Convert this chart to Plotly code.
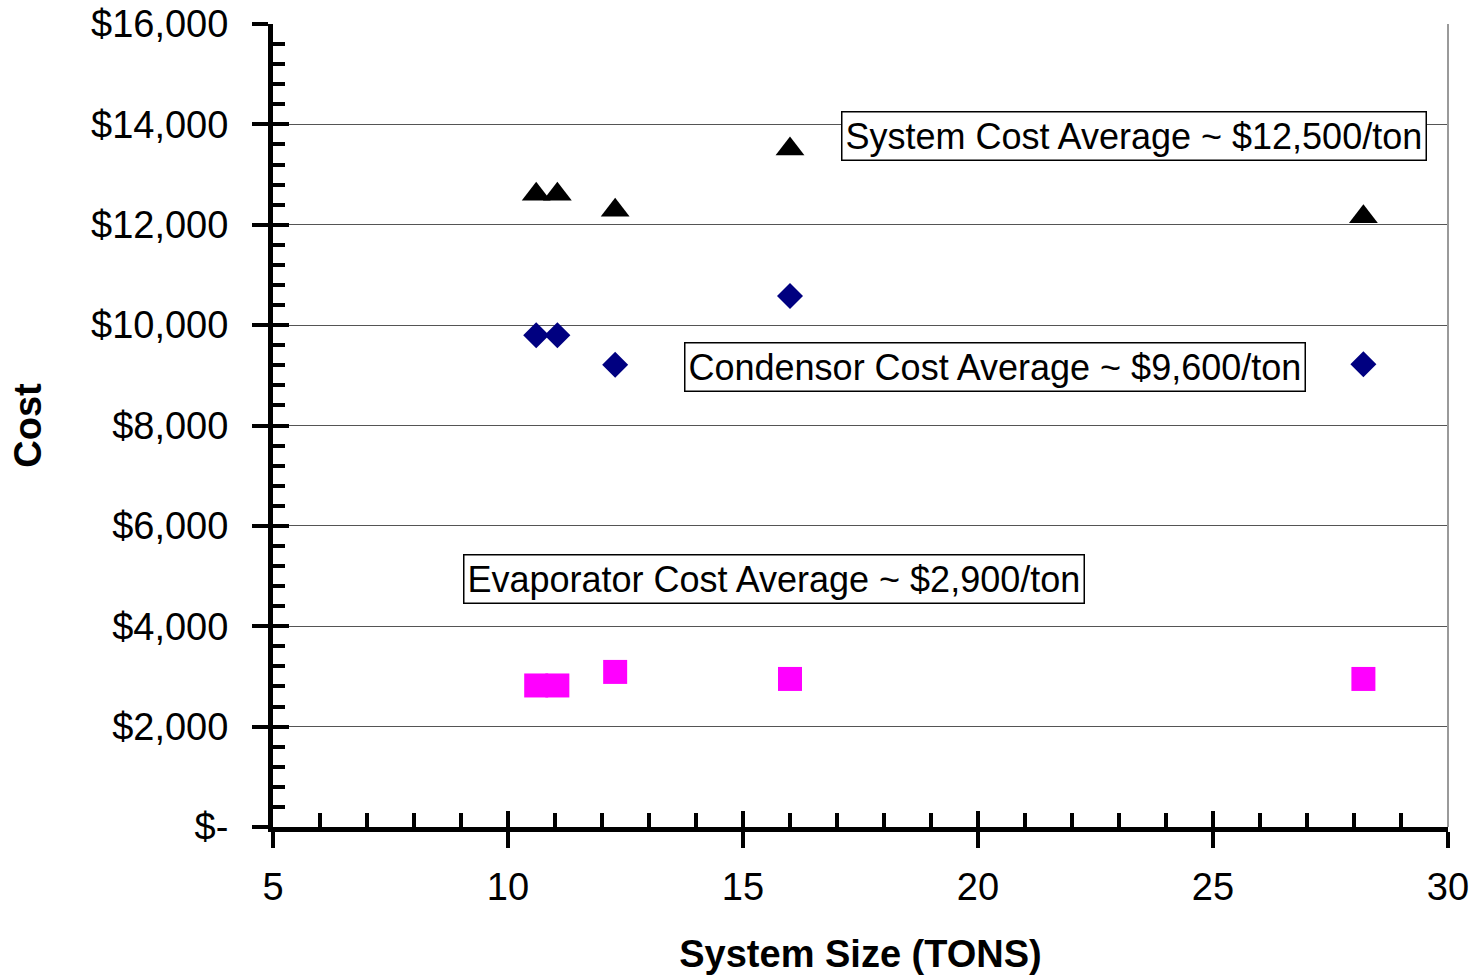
import plotly.graph_objects as go

# Data
system_size = [10.6, 11.05, 12.28, 16.0, 28.2]
system_cost = [12610, 12610, 12290, 13510, 12160]
condensor_cost = [9800, 9800, 9210, 10580, 9220]
evaporator_cost = [2820, 2820, 3090, 2950, 2950]

x_tickvals = [5, 10, 15, 20, 25, 30]
x_ticktext = ["5", "10", "15", "20", "25", "30"]
x_minorvals = [v for v in range(5, 31) if v % 5 != 0]
y_tickvals = [0, 2000, 4000, 6000, 8000, 10000, 12000, 14000, 16000]
y_ticktext = ["$-", "$2,000", "$4,000", "$6,000", "$8,000", "$10,000",
              "$12,000", "$14,000", "$16,000"]
y_minorvals = [v for v in range(0, 16001, 400) if v % 2000 != 0]

labels = [
    ("System Cost Average ~ $12,500/ton", 23.32, 13770),
    ("Condensor Cost Average ~ $9,600/ton", 20.36, 9165),
    ("Evaporator Cost Average ~ $2,900/ton", 15.66, 4940),
]

FONT = "Liberation Sans, Arial, sans-serif"

fig = go.Figure()
fig.add_trace(go.Scatter(x=system_size, y=system_cost, mode="markers", name="System",
                         marker=dict(symbol="triangle-up", size=25, color="black")))
fig.add_trace(go.Scatter(x=system_size, y=condensor_cost, mode="markers", name="Condensor",
                         marker=dict(symbol="diamond", size=20, color="#000080")))
fig.add_trace(go.Scatter(x=system_size, y=evaporator_cost, mode="markers", name="Evaporator",
                         marker=dict(symbol="square", size=24, color="#FF00FF")))
# invisible trace to activate overlay axes (inside halves of the crossing major ticks)
fig.add_trace(go.Scatter(x=[None], y=[None], xaxis="x2", yaxis="y2", showlegend=False,
                         hoverinfo="skip", mode="markers"))

for text, x, y in labels:
    fig.add_annotation(text=text, x=x, y=y, xref="x", yref="y", showarrow=False,
                       font=dict(family=FONT, size=36, color="black"),
                       bgcolor="white", bordercolor="black", borderwidth=1.5, borderpad=3)

fig.add_shape(type="line", xref="paper", yref="paper", x0=1, x1=1, y0=0, y1=1,
              line=dict(color="#9a9a9a", width=2))

fig.update_layout(
    width=1477, height=975,
    margin=dict(l=273, r=29, t=24, b=148),
    paper_bgcolor="white", plot_bgcolor="white",
    showlegend=False,
    font=dict(family=FONT, color="black"),
    xaxis=dict(
        range=[5, 30], tickmode="array", tickvals=x_tickvals, ticktext=x_ticktext,
        ticks="outside", ticklen=16, tickwidth=4, tickcolor="black",
        showline=True, linewidth=5, linecolor="black",
        showgrid=False, zeroline=False, automargin=False,
        minor=dict(tickmode="array", tickvals=x_minorvals, ticks="inside", ticklen=14,
                   tickwidth=4, tickcolor="black", showgrid=False),
        tickfont=dict(size=38), ticklabelstandoff=6,
        title=dict(text="<b>System Size (TONS)</b>", font=dict(size=38), standoff=35),
    ),
    xaxis2=dict(
        overlaying="x", anchor="y", side="bottom", range=[5, 30], automargin=False,
        tickmode="array", tickvals=x_tickvals, ticks="inside", ticklen=16, tickwidth=4,
        tickcolor="black", showticklabels=False, showgrid=False, zeroline=False, showline=False,
    ),
    yaxis=dict(
        range=[0, 16000], tickmode="array", tickvals=y_tickvals, ticktext=y_ticktext,
        ticks="outside", ticklen=16, tickwidth=4, tickcolor="black",
        showline=True, linewidth=5, linecolor="black", automargin=False,
        showgrid=True, gridcolor="#555555", gridwidth=1, zeroline=False,
        minor=dict(tickmode="array", tickvals=y_minorvals, ticks="inside", ticklen=12,
                   tickwidth=4, tickcolor="black", showgrid=False),
        tickfont=dict(size=38), ticklabelstandoff=16,
        title=dict(text="<b>Cost</b>", font=dict(size=38), standoff=39),
    ),
    yaxis2=dict(
        overlaying="y", anchor="x", side="left", range=[0, 16000], automargin=False,
        tickmode="array", tickvals=y_tickvals, ticks="inside", ticklen=16, tickwidth=4,
        tickcolor="black", showticklabels=False, showgrid=False, zeroline=False, showline=False,
    ),
)

fig.write_html("out.html")
